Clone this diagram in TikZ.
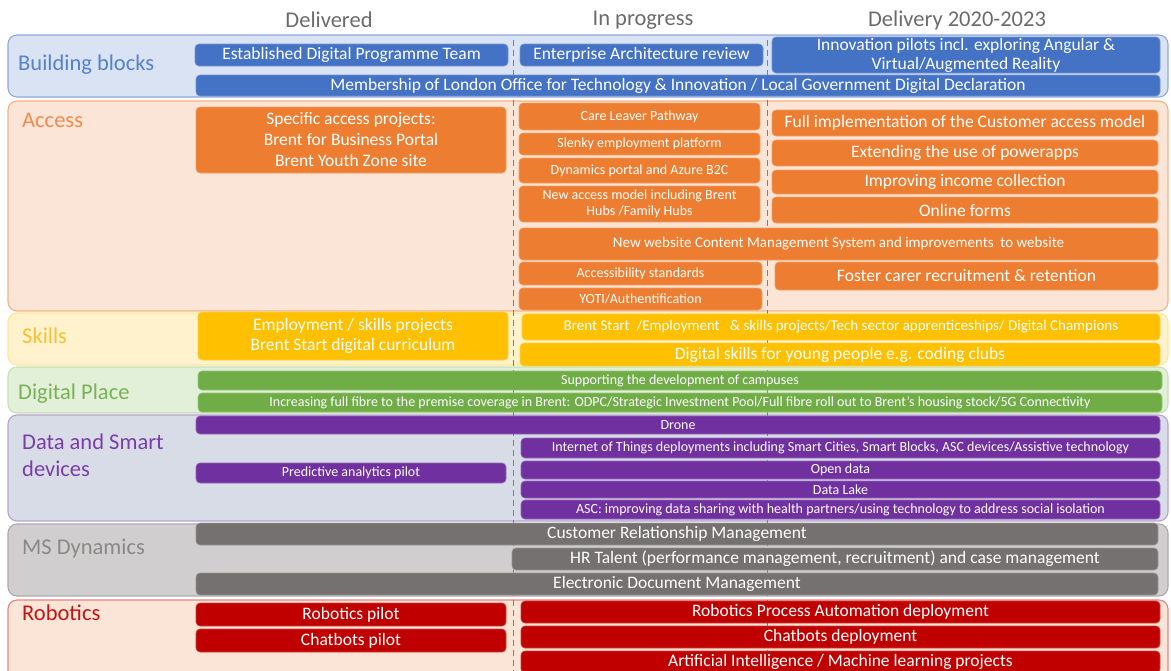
\documentclass[tikz,border=0pt]{standalone}
\usepackage{fontspec}
\setmainfont{Carlito}
\usetikzlibrary{positioning}

% band colours: box fill, band fill, band outline, label text
\definecolor{bbBox}{HTML}{4472C4}\definecolor{bbFill}{HTML}{DAE3F3}\definecolor{bbLine}{HTML}{8FAADC}\definecolor{bbText}{HTML}{5482CC}
\definecolor{acBox}{HTML}{ED7D31}\definecolor{acFill}{HTML}{FBE5D6}\definecolor{acLine}{HTML}{F4B183}\definecolor{acText}{HTML}{EF8C4E}
\definecolor{skBox}{HTML}{FFC000}\definecolor{skFill}{HTML}{FFF2CC}\definecolor{skLine}{HTML}{FFE699}\definecolor{skText}{HTML}{F8C133}
\definecolor{dpBox}{HTML}{70AD47}\definecolor{dpFill}{HTML}{E2F0D9}\definecolor{dpLine}{HTML}{C5E0B4}\definecolor{dpText}{HTML}{79B254}
\definecolor{dsBox}{HTML}{7030A0}\definecolor{dsFill}{HTML}{D8DCE6}\definecolor{dsLine}{HTML}{B7A3D3}\definecolor{dsText}{HTML}{7B3DAA}
\definecolor{msBox}{HTML}{767171}\definecolor{msFill}{HTML}{D0CECE}\definecolor{msLine}{HTML}{AEABAB}\definecolor{msText}{HTML}{8C8888}
\definecolor{roBox}{HTML}{C00000}\definecolor{roFill}{HTML}{FBE5D6}\definecolor{roLine}{HTML}{EE8080}\definecolor{roText}{HTML}{C41414}
\definecolor{headGrey}{HTML}{6B6B6B}
\definecolor{divGrey}{HTML}{7F7F7F}

\begin{document}
\begin{tikzpicture}[
        x=1pt, y=-1pt,
        band/.style={rounded corners=9pt, line width=1.1pt},
        item/.style={rectangle, rounded corners=4pt, text=white, align=center, inner sep=1pt, line width=0.6pt},
        big/.style={font=\fontsize{17.5}{20}\selectfont},
        mid/.style={font=\fontsize{15}{16}\selectfont},
        small/.style={font=\fontsize{14}{16}\selectfont},
        bbItem/.style={item, fill=bbBox, draw=bbBox!75!white},
        acItem/.style={item, fill=acBox, draw=acBox!75!white},
        skItem/.style={item, fill=skBox, draw=skBox!75!white},
        dpItem/.style={item, fill=dpBox, draw=dpBox!75!white},
        dsItem/.style={item, fill=dsBox, draw=dsBox!75!white},
        msItem/.style={item, fill=msBox, draw=msBox!75!white},
        roItem/.style={item, fill=roBox, draw=roBox!75!white},
        lbl/.style={anchor=west, align=left, inner sep=0pt, font=\fontsize{22.5}{27}\selectfont},
        head/.style={text=headGrey, inner sep=0pt, font=\fontsize{22.5}{27}\selectfont},
        divider/.style={divGrey, line width=1pt, dash pattern=on 6pt off 4pt}
    ]
    \useasboundingbox (0,0) rectangle (1171,670);
    \clip (0,0) rectangle (1171,670);

    % Column headings
    \node[head] (hDelivered) at (329,20) {Delivered};
    \node[head] (hProgress) at (643,20) {In progress};
    \node[head] (hDelivery) at (957,20) {Delivery 2020-2023};

    % Theme bands
    \draw[band, fill=bbFill, draw=bbLine] (8,35) rectangle (1168,97);
    \draw[band, fill=acFill, draw=acLine] (8,101) rectangle (1168,311);
    \draw[band, fill=skFill, draw=skLine] (8,313) rectangle (1168,365);
    \draw[band, fill=dpFill, draw=dpLine] (8,367) rectangle (1168,413);
    \draw[band, fill=dsFill, draw=dsLine] (8,415) rectangle (1168,521);
    \draw[band, fill=msFill, draw=msLine] (8,524) rectangle (1168,596);
    \draw[band, fill=roFill, draw=roLine] (8,600) rectangle (1168,690);

    % Column dividers
    \coordinate (divA-top) at (513,40);
    \coordinate (divA-bot) at (513,672);
    \coordinate (divB-top) at (767,40);
    \coordinate (divB-bot) at (767,672);
    \draw[divider] (divA-top) -- (divA-bot);
    \draw[divider] (divB-top) -- (divB-bot);

    % Building blocks
    \node[lbl, text=bbText] (lBuilding) at (18,65) {Building blocks};
    \node[bbItem, big, minimum width=313, minimum height=22] (est) at (351.5,55) {Established Digital Programme Team};
    \node[bbItem, big, minimum width=243, minimum height=22] (ear) at (641.5,55) {Enterprise Architecture review};
    \node[bbItem, minimum width=388, minimum height=36, inner sep=0pt, font=\fontsize{17.5}{19}\selectfont] (inno) at (966,55) {Innovation pilots incl. exploring Angular \&\\Virtual/Augmented Reality};
    \node[bbItem, big, minimum width=964, minimum height=21] (lotid) at (678,85.5) {Membership of London Office for Technology \& Innovation / Local Government Digital Declaration};

    % Access
    \node[lbl, text=acText] (lAccess) at (22,120) {Access};
    \node[acItem, big, minimum width=310, minimum height=66, font=\fontsize{17.5}{21}\selectfont] (spec) at (351,140) {Specific access projects:\\Brent for Business Portal\\Brent Youth Zone site};
    \node[acItem, small, minimum width=241, minimum height=27] (care) at (639.5,116.5) {Care Leaver Pathway};
    \node[acItem, small, minimum width=241, minimum height=22] (slenky) at (639.5,144) {Slenky employment platform};
    \node[acItem, small, minimum width=241, minimum height=25] (portal) at (639.5,170.5) {Dynamics portal and Azure B2C};
    \node[acItem, small, minimum width=241, minimum height=36] (hubs) at (639.5,204) {New access model including Brent\\Hubs /Family Hubs};
    \node[acItem, big, minimum width=386, minimum height=26] (fullimp) at (965,123) {Full implementation of the Customer access model};
    \node[acItem, big, minimum width=386, minimum height=26] (powerapps) at (965,153) {Extending the use of powerapps};
    \node[acItem, big, minimum width=386, minimum height=24] (income) at (965,182) {Improving income collection};
    \node[acItem, big, minimum width=386, minimum height=26] (forms) at (965,210) {Online forms};
    \node[acItem, mid, minimum width=639, minimum height=32] (cms) at (838.5,244) {New website Content Management System and improvements \ to website};
    \node[acItem, small, minimum width=243, minimum height=23] (accstd) at (640.5,273.5) {Accessibility standards};
    \node[acItem, small, minimum width=243, minimum height=22] (yoti) at (640.5,299) {YOTI/Authentification};
    \node[acItem, big, minimum width=383, minimum height=28] (foster) at (966.5,276) {Foster carer recruitment \& retention};

    % Skills
    \node[lbl, text=skText] (lSkills) at (22,336) {Skills};
    \node[skItem, big, minimum width=310, minimum height=48] (empl) at (353,336) {Employment / skills projects\\Brent Start digital curriculum};
    \node[skItem, mid, minimum width=638, minimum height=26] (bstart) at (841,327) {Brent Start \ /Employment \ \ \& skills projects/Tech sector apprenticeships/ Digital Champions};
    \node[skItem, big, minimum width=640, minimum height=23] (young) at (840,354.5) {Digital skills for young people e.g. coding clubs};

    % Digital Place
    \node[lbl, text=dpText] (lPlace) at (18,394) {Digital Place};
    \node[dpItem, small, minimum width=964, minimum height=19] (campus) at (680,380.5) {Supporting the development of campuses};
    \node[dpItem, small, minimum width=964, minimum height=19] (fibre) at (680,402.5) {Increasing full fibre to the premise coverage in Brent: ODPC/Strategic Investment Pool/Full fibre roll out to Brent's housing stock/5G Connectivity};

    % Data and Smart devices
    \node[lbl, text=dsText] (lData) at (22,455.5) {Data and Smart\\devices};
    \node[dsItem, small, minimum width=964, minimum height=18] (drone) at (678,425) {Drone};
    \node[dsItem, small, minimum width=639, minimum height=20] (iot) at (840.5,448) {Internet of Things deployments including Smart Cities, Smart Blocks, ASC devices/Assistive technology};
    \node[dsItem, small, minimum width=310, minimum height=20] (pred) at (351,473) {Predictive analytics pilot};
    \node[dsItem, small, minimum width=639, minimum height=18] (opendata) at (840.5,470) {Open data};
    \node[dsItem, small, minimum width=639, minimum height=17] (lake) at (840.5,489.5) {Data Lake};
    \node[dsItem, small, minimum width=639, minimum height=19] (asc) at (840.5,509.5) {ASC: improving data sharing with health partners/using technology to address social isolation};

    % MS Dynamics
    \node[lbl, text=msText] (lDynamics) at (22,549) {MS Dynamics};
    \node[msItem, big, minimum width=962, minimum height=22] (crm) at (677,534) {Customer Relationship Management};
    \node[msItem, big, minimum width=646, minimum height=22] (hr) at (835,559) {HR Talent (performance management, recruitment) and case management};
    \node[msItem, big, minimum width=962, minimum height=22] (edm) at (677,584) {Electronic Document Management};

    % Robotics
    \node[lbl, text=roText] (lRobotics) at (22,613) {Robotics};
    \node[roItem, big, minimum width=310, minimum height=23] (robpilot) at (351,614.5) {Robotics pilot};
    \node[roItem, big, minimum width=310, minimum height=23] (chatpilot) at (351,640.5) {Chatbots pilot};
    \node[roItem, big, minimum width=639, minimum height=22] (rpa) at (840.5,612) {Robotics Process Automation deployment};
    \node[roItem, big, minimum width=639, minimum height=22] (chatdep) at (840.5,637) {Chatbots deployment};
    \node[roItem, big, minimum width=639, minimum height=22] (aiml) at (840.5,662) {Artificial Intelligence / Machine learning projects};
\end{tikzpicture}
\end{document}
